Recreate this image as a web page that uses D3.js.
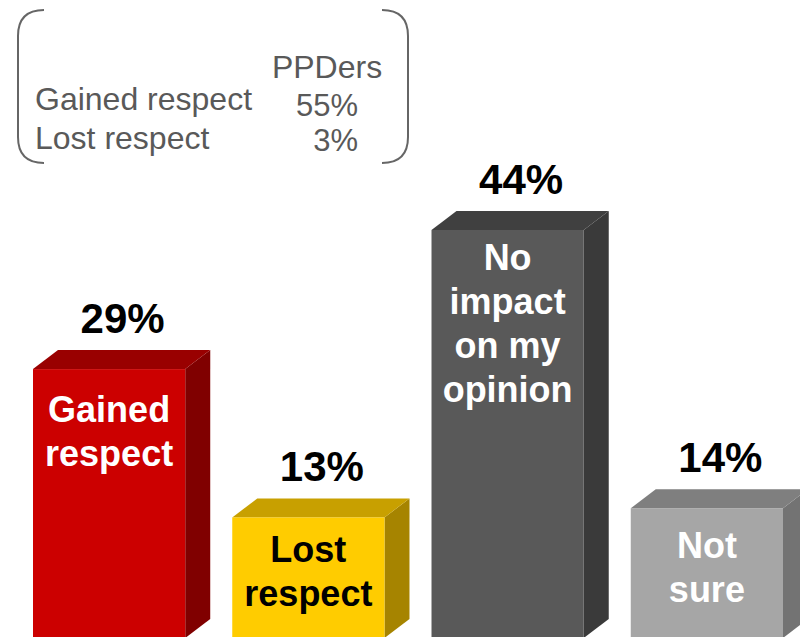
<!DOCTYPE html>
<html>
<head>
<meta charset="utf-8">
<script src="https://cdn.jsdelivr.net/npm/d3@7"></script>
<style>
  body { margin: 0; background: #fff; }
  svg { display: block; font-family: "Liberation Sans", Arial, sans-serif; }
</style>
</head>
<body>
<div id="graphic"></div>
<script>
// Chart data
const categories = ["Gained respect", "Lost respect", "No impact", "Not sure"];
const values = [29, 13, 44, 14];
const barLabels = [["Gained", "respect"], ["Lost", "respect"], ["No", "impact", "on my", "opinion"], ["Not", "sure"]];
const frontColors = ["#cc0000", "#ffcc00", "#595959", "#a6a6a6"];
const topColors = ["#990000", "#c8a000", "#404040", "#7f7f7f"];
const sideColors = ["#800000", "#a68400", "#3a3a3a", "#737373"];
const labelColors = ["#ffffff", "#000000", "#ffffff", "#ffffff"];

// Inset box
const boxHeader = "PPDers";
const boxRows = ["Gained respect", "Lost respect"];
const boxValues = ["55%", "3%"];

// Layout
const svgWidth = 800;
const svgHeight = 637;
const depthX = 25;
const depthY = 19;
const labelDy = [53, 45, 40, 50]; // first line baseline below the bar top

const svg = d3.select("#graphic")
    .append("svg")
    .attr("width", svgWidth)
    .attr("height", svgHeight);

// Scales
const xScale = d3.scaleBand()
    .domain(categories)
    .range([33, 783])
    .paddingInner(0.236)
    .paddingOuter(0);

const yScale = d3.scaleLinear()
    .domain([0, 44])
    .range([638, 230]);

const bw = xScale.bandwidth();
const base = yScale(0);

const bars = svg.selectAll(".bar")
    .data(categories)
    .enter()
    .append("g")
    .attr("class", "bar");

// Side face
bars.append("path")
    .attr("fill", (d, i) => sideColors[i])
    .attr("d", (d, i) => {
        const x = xScale(d) + bw, y = yScale(values[i]);
        return `M${x},${y} L${x + depthX},${y - depthY} L${x + depthX},${base - depthY} L${x},${base} Z`;
    });

// Top face
bars.append("path")
    .attr("fill", (d, i) => topColors[i])
    .attr("d", (d, i) => {
        const x = xScale(d), y = yScale(values[i]);
        return `M${x},${y} L${x + depthX},${y - depthY} L${x + bw + depthX},${y - depthY} L${x + bw},${y} Z`;
    });

// Front face
bars.append("rect")
    .attr("x", d => xScale(d))
    .attr("y", (d, i) => yScale(values[i]))
    .attr("width", bw)
    .attr("height", (d, i) => base - yScale(values[i]))
    .attr("fill", (d, i) => frontColors[i]);

// Value labels above the bars
bars.append("text")
    .attr("x", d => xScale(d) + (bw + depthX) / 2 + 1)
    .attr("y", (d, i) => yScale(values[i]) - depthY - 17)
    .attr("text-anchor", "middle")
    .attr("font-size", 42)
    .attr("font-weight", "bold")
    .attr("fill", "#000")
    .text((d, i) => values[i] + "%");

// Category labels inside the bars
bars.each(function(d, i) {
    const lines = barLabels[i];
    const first = yScale(values[i]) + labelDy[i];
    d3.select(this).append("text")
        .attr("text-anchor", "middle")
        .attr("font-size", 36)
        .attr("font-weight", "bold")
        .attr("fill", labelColors[i])
        .selectAll("tspan")
        .data(lines)
        .enter()
        .append("tspan")
        .attr("x", xScale(d) + bw / 2)
        .attr("y", (l, j) => first + j * 44)
        .text(l => l);
});

// Inset box with bracket sides
const box = svg.append("g").attr("class", "inset");

box.append("path")
    .attr("fill", "none")
    .attr("stroke", "#666")
    .attr("stroke-width", 2)
    .attr("d", "M44,10 Q18,10 18,36 L18,137 Q18,163 44,163");

box.append("path")
    .attr("fill", "none")
    .attr("stroke", "#666")
    .attr("stroke-width", 2)
    .attr("d", "M382,10 Q408,10 408,36 L408,137 Q408,163 382,163");

box.append("text")
    .attr("x", 327)
    .attr("y", 78)
    .attr("text-anchor", "middle")
    .attr("font-size", 32)
    .attr("fill", "#595959")
    .text(boxHeader);

box.selectAll(".row-label")
    .data(boxRows)
    .enter()
    .append("text")
    .attr("class", "row-label")
    .attr("x", 35)
    .attr("y", (d, i) => 110 + i * 39)
    .attr("font-size", 32)
    .attr("fill", "#595959")
    .text(d => d);

box.selectAll(".row-value")
    .data(boxValues)
    .enter()
    .append("text")
    .attr("class", "row-value")
    .attr("x", 358)
    .attr("y", (d, i) => [116, 151][i])
    .attr("text-anchor", "end")
    .attr("font-size", 31)
    .attr("fill", "#595959")
    .text(d => d);
</script>
</body>
</html>
